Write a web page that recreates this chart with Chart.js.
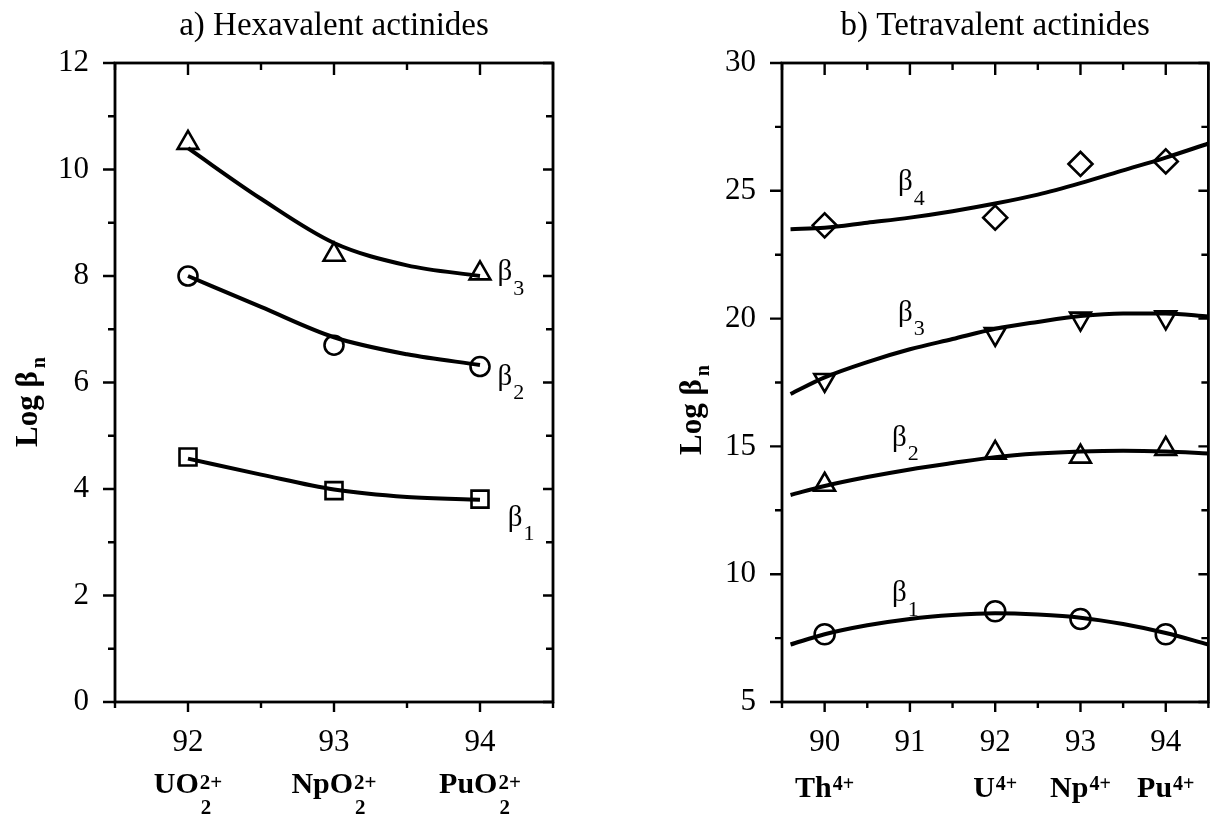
<!DOCTYPE html>
<html>
<head>
<meta charset="utf-8">
<script src="https://cdn.jsdelivr.net/npm/chart.js@4.4.1/dist/chart.umd.min.js"></script>
<style>
  html, body { margin: 0; padding: 0; background: #fff; }
  #wrap { position: relative; width: 1223px; height: 818px; overflow: hidden; background: #fff; }
  #wrap canvas { position: absolute; top: 0; }
</style>
</head>
<body>
<div id="wrap">
  <canvas id="hex" width="610" height="818" style="left:0px"></canvas>
  <canvas id="tet" width="613" height="818" style="left:610px"></canvas>
</div>
<script>
// ---- a) Hexavalent actinides: atomic number and log beta_n ----
const hexZ = [92, 93, 94];
const hexIonBase = ['UO', 'NpO', 'PuO'];
const hexIonSub = ['2', '2', '2'];
const hexIonSup = ['2+', '2+', '2+'];
const hexB1 = [4.6, 3.97, 3.81];
const hexB2 = [8.0, 6.7, 6.3];
const hexB3 = [10.5, 8.4, 8.05];
// smoothed trend curves
const hexFitZ = [92, 92.5, 93, 93.5, 94];
const hexFitB1 = [4.57, 4.27, 3.99, 3.85, 3.80];
const hexFitB2 = [8.0, 7.42, 6.85, 6.53, 6.33];
const hexFitB3 = [10.4, 9.45, 8.62, 8.2, 8.0];

// ---- b) Tetravalent actinides ----
const tetZ = [90, 92, 93, 94];
const tetIonBase = ['Th', 'U', 'Np', 'Pu'];
const tetIonSup = ['4+', '4+', '4+', '4+'];
const tetB1 = [7.65, 8.55, 8.25, 7.65];
const tetB2 = [13.5, 14.75, 14.6, 14.9];
const tetB3 = [17.6, 19.4, 20.0, 20.05];
const tetB4 = [23.65, 23.95, 26.05, 26.15];
const tetFitZ = [89.6, 90, 90.5, 91, 91.5, 92, 92.5, 93, 93.5, 94, 94.5];
const tetFitB1 = [7.25, 7.65, 8.0, 8.25, 8.4, 8.47, 8.42, 8.3, 8.05, 7.7, 7.25];
const tetFitB2 = [13.1, 13.45, 13.8, 14.1, 14.35, 14.58, 14.72, 14.8, 14.83, 14.8, 14.72];
const tetFitB3 = [17.05, 17.7, 18.3, 18.8, 19.2, 19.6, 19.87, 20.1, 20.2, 20.2, 20.08];
const tetFitB4 = [23.5, 23.55, 23.75, 23.95, 24.2, 24.5, 24.85, 25.3, 25.8, 26.3, 26.85];

const SERIF = '"Liberation Serif", "Times New Roman", Times, serif';

const pts = (xs, ys) => xs.map((x, i) => ({ x, y: ys[i] }));

function markerSet(xs, ys, style, radius, rotation) {
  return {
    data: pts(xs, ys),
    showLine: false,
    pointStyle: style,
    pointRadius: radius,
    pointHoverRadius: radius,
    pointRotation: rotation || 0,
    pointBorderColor: '#000',
    pointBackgroundColor: 'rgba(0,0,0,0)',
    pointBorderWidth: 2.6
  };
}

function curveSet(xs, ys) {
  return {
    data: pts(xs, ys),
    showLine: true,
    pointRadius: 0,
    pointHoverRadius: 0,
    borderColor: '#000',
    borderWidth: 4,
    cubicInterpolationMode: 'monotone',
    fill: false
  };
}

// Draws the boxed frame, inward/outward tick marks, the panel title,
// the rotated axis title, the ion labels under the axis and the beta labels.
function panelDecor(cfg) {
  return {
    id: 'panelDecor',
    beforeDraw(chart) {
      const c = chart.ctx;
      c.save();
      c.fillStyle = '#fff';
      c.fillRect(0, 0, chart.width, chart.height);
      c.restore();
    },
    afterDatasetsDraw(chart) {
      const ctx = chart.ctx;
      const a = chart.chartArea;
      const x = chart.scales.x, y = chart.scales.y;
      ctx.save();
      ctx.strokeStyle = '#000';
      ctx.fillStyle = '#000';

      // frame
      ctx.lineWidth = 2.8;
      ctx.strokeRect(a.left, a.top, a.right - a.left, a.bottom - a.top);

      // tick marks
      ctx.lineWidth = 2.4;
      ctx.beginPath();
      x.ticks.forEach(t => {
        const px = x.getPixelForValue(t.value);
        const major = t.label !== '';
        ctx.moveTo(px, a.bottom); ctx.lineTo(px, a.bottom + (major ? 10 : 6));
        ctx.moveTo(px, a.top); ctx.lineTo(px, a.top + (major ? 12 : 7));
      });
      y.ticks.forEach(t => {
        const py = y.getPixelForValue(t.value);
        const major = t.label !== '';
        ctx.moveTo(a.left, py); ctx.lineTo(a.left - (major ? 12 : 7), py);
        ctx.moveTo(a.right, py); ctx.lineTo(a.right - (major ? 10 : 7), py);
      });
      ctx.stroke();

      // panel title
      ctx.font = '33px ' + SERIF;
      ctx.textAlign = 'center';
      ctx.textBaseline = 'middle';
      ctx.fillText(cfg.title, (a.left + a.right) / 2, 26);

      // rotated axis title: Log beta with subscript n
      ctx.save();
      ctx.translate(cfg.yTitleX, cfg.yTitleY);
      ctx.rotate(-Math.PI / 2);
      ctx.textAlign = 'left';
      ctx.textBaseline = 'alphabetic';
      ctx.font = 'bold 31px ' + SERIF;
      const main = 'Log \u03B2';
      const w1 = ctx.measureText(main).width;
      ctx.font = 'bold 20px ' + SERIF;
      const w2 = ctx.measureText('n').width;
      const start = -(w1 + 3 + w2) / 2;
      ctx.font = 'bold 31px ' + SERIF;
      ctx.fillText(main, start, 10);
      ctx.font = 'bold 20px ' + SERIF;
      ctx.fillText('n', start + w1 + 3, 18);
      ctx.restore();

      // ion labels under the axis
      ctx.textAlign = 'left';
      ctx.textBaseline = 'alphabetic';
      cfg.ions.z.forEach((z, i) => {
        const px = x.getPixelForValue(z);
        ctx.font = 'bold 30px ' + SERIF;
        const mw = ctx.measureText(cfg.ions.base[i]).width;
        ctx.font = 'bold ' + cfg.ions.scriptSize + 'px ' + SERIF;
        const supW = ctx.measureText(cfg.ions.sup[i]).width;
        const subW = cfg.ions.sub ? ctx.measureText(cfg.ions.sub[i]).width : 0;
        const sw = Math.max(supW, subW);
        const left = px - (mw + 1 + sw) / 2 + cfg.ions.shift;
        ctx.font = 'bold 30px ' + SERIF;
        ctx.fillText(cfg.ions.base[i], left, cfg.ions.baseY);
        ctx.font = 'bold ' + cfg.ions.scriptSize + 'px ' + SERIF;
        ctx.fillText(cfg.ions.sup[i], left + mw + 1, cfg.ions.supY);
        if (cfg.ions.sub) ctx.fillText(cfg.ions.sub[i], left + mw + 2, cfg.ions.subY);
      });

      // beta_n labels beside the curves
      ctx.textBaseline = 'middle';
      cfg.betas.forEach(b => {
        const px = x.getPixelForValue(b.x);
        const py = y.getPixelForValue(b.y);
        ctx.font = '29px ' + SERIF;
        ctx.fillText('\u03B2', px, py);
        const bw = ctx.measureText('\u03B2').width;
        ctx.font = '22px ' + SERIF;
        ctx.fillText(b.sub, px + bw + 1, py + 16);
      });

      ctx.restore();
    }
  };
}

function makeChart(id, opt) {
  const tickFont = { family: SERIF, size: 31 };
  return new Chart(document.getElementById(id), {
    type: 'scatter',
    data: { datasets: opt.datasets },
    options: {
      responsive: false,
      animation: false,
      events: [],
      layout: { padding: { left: 0, right: opt.padRight, top: 63, bottom: 0 } },
      plugins: { legend: { display: false }, tooltip: { enabled: false }, title: { display: false } },
      scales: {
        x: {
          type: 'linear',
          min: opt.xMin, max: opt.xMax,
          grid: { display: false },
          border: { display: false },
          afterFit: s => { s.height = 116; },
          ticks: {
            stepSize: 0.5,
            autoSkip: false,
            maxRotation: 0,
            includeBounds: false,
            padding: 14,
            color: '#000',
            font: tickFont,
            callback: v => (Number.isInteger(v) ? String(v) : '')
          }
        },
        y: {
          type: 'linear',
          min: opt.yMin, max: opt.yMax,
          grid: { display: false },
          border: { display: false },
          afterFit: s => { s.width = opt.yWidth; },
          ticks: {
            stepSize: opt.yStep,
            autoSkip: false,
            padding: 18,
            color: '#000',
            font: tickFont,
            callback: v => (v % opt.yLabelEvery === 0 ? String(v) : '')
          }
        }
      }
    },
    plugins: [panelDecor(opt.decor)]
  });
}

makeChart('hex', {
  xMin: 91.5, xMax: 94.5, yMin: 0, yMax: 12, yStep: 1, yLabelEvery: 2,
  yWidth: 115, padRight: 57,
  datasets: [
    curveSet(hexFitZ, hexFitB3),
    curveSet(hexFitZ, hexFitB2),
    curveSet(hexFitZ, hexFitB1),
    markerSet(hexZ, hexB3, 'triangle', 12),
    markerSet(hexZ, hexB2, 'circle', 9.5),
    markerSet(hexZ, hexB1, 'rect', 12)
  ],
  decor: {
    title: 'a) Hexavalent actinides',
    yTitleX: 27, yTitleY: 402,
    ions: { z: hexZ, base: hexIonBase, sup: hexIonSup, sub: hexIonSub,
            baseY: 793, supY: 789, subY: 814, scriptSize: 21, shift: 0 },
    betas: [
      { x: 94.12, y: 8.06, sub: '3' },
      { x: 94.12, y: 6.1, sub: '2' },
      { x: 94.19, y: 3.45, sub: '1' }
    ]
  }
});

makeChart('tet', {
  xMin: 89.5, xMax: 94.5, yMin: 5, yMax: 30, yStep: 2.5, yLabelEvery: 5,
  yWidth: 172, padRight: 3,
  datasets: [
    curveSet(tetFitZ, tetFitB4),
    curveSet(tetFitZ, tetFitB3),
    curveSet(tetFitZ, tetFitB2),
    curveSet(tetFitZ, tetFitB1),
    markerSet(tetZ, tetB4, 'rectRot', 12),
    markerSet(tetZ, tetB3, 'triangle', 12, 180),
    markerSet(tetZ, tetB2, 'triangle', 12),
    markerSet(tetZ, tetB1, 'circle', 10)
  ],
  decor: {
    title: 'b) Tetravalent actinides',
    yTitleX: 81, yTitleY: 410,
    ions: { z: tetZ, base: tetIonBase, sup: tetIonSup, sub: null,
            baseY: 797, supY: 790, subY: 0, scriptSize: 20, shift: 0 },
    betas: [
      { x: 90.86, y: 25.31, sub: '4' },
      { x: 90.86, y: 20.22, sub: '3' },
      { x: 90.79, y: 15.33, sub: '2' },
      { x: 90.79, y: 9.23, sub: '1' }
    ]
  }
});
</script>
</body>
</html>
